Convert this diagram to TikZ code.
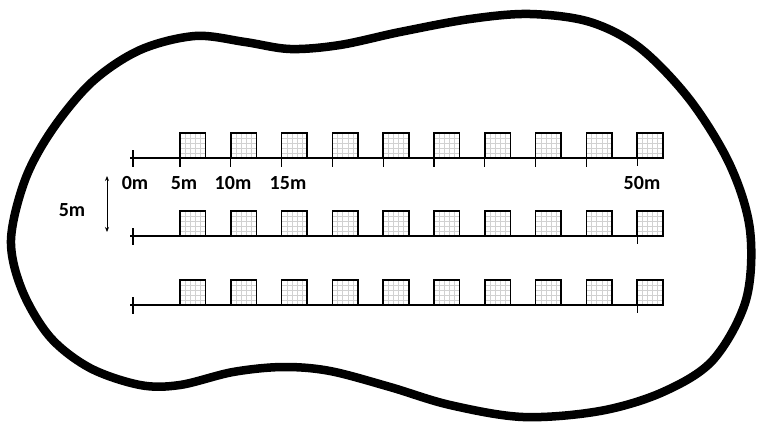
\documentclass[tikz,border=0pt]{standalone}
\usepackage{fontspec}
\setmainfont{Carlito}
\usetikzlibrary{arrows.meta}
\begin{document}
\begin{tikzpicture}[x=1pt,y=-1pt,
  blob/.style={line width=8.5pt, line join=round},
  baseln/.style={line width=1.3pt},
  tickln/.style={line width=1.3pt},
  plotsq/.style={line width=1.6pt},
  gridln/.style={line width=0.35pt, black!18},
  lab/.style={font=\bfseries\fontsize{20}{24}\selectfont, inner sep=0pt, text=black}]
\useasboundingbox (0,0) rectangle (757,425);
\fill[white] (0,0) rectangle (757,425);

\draw[blob] plot[smooth cycle, tension=0.55] coordinates {
 (11,240) (25,180) (52,130) (92,82) (140,50) (195,36) (245,42) (290,49)
 (340,45) (400,32) (470,19) (530,14) (590,22) (640,48) (690,100) (730,165) (750,230)
 (746,300) (713,360) (663,392) (600,411) (523,417) (450,405) (390,387)
 (330,371) (283,367) (233,372) (180,385) (140,385) (90,368) (50,337) (22,290)};

\foreach \yl/\r in {158/1,236/2,305/3} {
  \draw[baseln] (130,\yl) -- (664,\yl);
  \draw[tickln] (133,\yl-8) -- (133,\yl+9);
  \foreach \k in {0,...,9} {
    \pgfmathsetmacro\xa{180+50.8*\k}
    \foreach \g in {1,...,4} {
      \draw[gridln] (\xa+5.1*\g,\yl-25) -- (\xa+5.1*\g,\yl);
      \draw[gridln] (\xa,\yl-5*\g) -- (\xa+25.5,\yl-5*\g);
    }
    \draw[plotsq] (\xa,\yl) rectangle (\xa+25.5,\yl-25);
  }
  \draw[tickln] (637.2,\yl) -- (637.2,\yl+8);
}
\foreach \k in {0,...,8} {
  \pgfmathsetmacro\xa{180+50.8*\k}
  \draw[tickln] (\xa,158) -- (\xa,167);
}

\node[lab] (l0) at (135,183) {0m};
\node[lab] (l5) at (184,183) {5m};
\node[lab] (l10) at (233,183) {10m};
\node[lab] (l15) at (288,183) {15m};
\node[lab] (l50) at (642,183) {50m};
\node[lab] (lrow) at (72,210) {5m};

\coordinate (atop) at (107,176);
\coordinate (abot) at (107,232);
\draw[{Stealth[length=5pt,width=4pt]}-{Stealth[length=5pt,width=4pt]}, line width=0.9pt] (atop) -- (abot);
\end{tikzpicture}
\end{document}
